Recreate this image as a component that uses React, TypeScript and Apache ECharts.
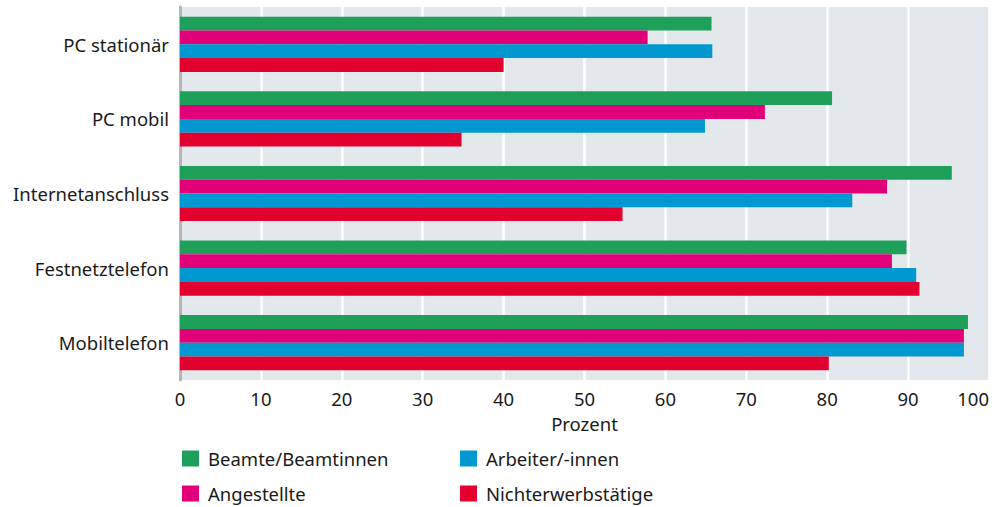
import React, { useEffect, useRef } from "react";
import * as echarts from "echarts";

const categories = ["PC stationär", "PC mobil", "Internetanschluss", "Festnetztelefon", "Mobiltelefon"];
const seriesNames = ["Beamte/Beamtinnen", "Angestellte", "Arbeiter/-innen", "Nichterwerbstätige"];
const beamte = [65.7, 80.6, 95.4, 89.8, 97.4];
const angestellte = [57.8, 72.3, 87.4, 88.0, 96.9];
const arbeiter = [65.8, 64.9, 83.1, 91.0, 96.9];
const nichterwerb = [40.0, 34.8, 54.7, 91.4, 80.2];
const colors = ["#1fa05a", "#e2007a", "#0098d1", "#e2002f"];
const xTicks = { min: 0, max: 100, interval: 10 };
const xName = "Prozent";

const FONT = "Noto Sans";
const FS = 18.5;
const TXT = "#1a1a1a";

export default function App() {
  const ref = useRef<HTMLDivElement>(null);
  useEffect(() => {
    if (!ref.current) return;
    const chart = echarts.init(ref.current, null, { renderer: "svg" });
    const data = [beamte, angestellte, arbeiter, nichterwerb];
    const legendCommon = {
      orient: "vertical",
      top: 449,
      height: 56,
      itemWidth: 17,
      itemHeight: 16,
      itemGap: 16,
      icon: "rect",
      padding: 0,
      textStyle: { fontSize: FS, lineHeight: 18, color: TXT, fontFamily: FONT, padding: [0, 0, 0, 4] },
    };
    chart.setOption({
      animation: false,
      textStyle: { fontFamily: FONT },
      grid: {
        left: 180,
        right: 17,
        top: 7,
        bottom: 127,
        show: true,
        backgroundColor: "#e3e8ec",
        borderWidth: 0,
        containLabel: false,
      },
      xAxis: {
        type: "value",
        min: xTicks.min,
        max: xTicks.max,
        interval: xTicks.interval,
        name: xName,
        nameLocation: "middle",
        nameGap: 34,
        nameTextStyle: { fontSize: FS, color: TXT, fontFamily: FONT },
        axisLine: { show: false },
        axisTick: { show: false },
        axisLabel: { fontSize: FS, color: TXT, margin: 9, fontFamily: FONT, alignMaxLabel: "right" },
        splitLine: { show: true, lineStyle: { color: "#ffffff", width: 2.5 } },
      },
      yAxis: {
        type: "category",
        data: categories,
        inverse: true,
        axisLine: { show: true, lineStyle: { color: "#b5b5b5", width: 3 } },
        axisTick: { show: false },
        axisLabel: { fontSize: FS, color: TXT, margin: 11, fontFamily: FONT },
        splitLine: { show: false },
      },
      legend: [
        { ...legendCommon, left: 182, data: [seriesNames[0], seriesNames[1]] },
        { ...legendCommon, left: 460, data: [seriesNames[2], seriesNames[3]] },
      ],
      series: seriesNames.map((name, i) => ({
        name,
        type: "bar",
        data: data[i],
        itemStyle: { color: colors[i] },
        barGap: "0%",
        barCategoryGap: "26%",
      })),
    });
    return () => chart.dispose();
  }, []);
  return (
    <div
      ref={ref}
      style={{ position: "absolute", left: 0, top: 0, width: 1006, height: 507 }}
    />
  );
}
